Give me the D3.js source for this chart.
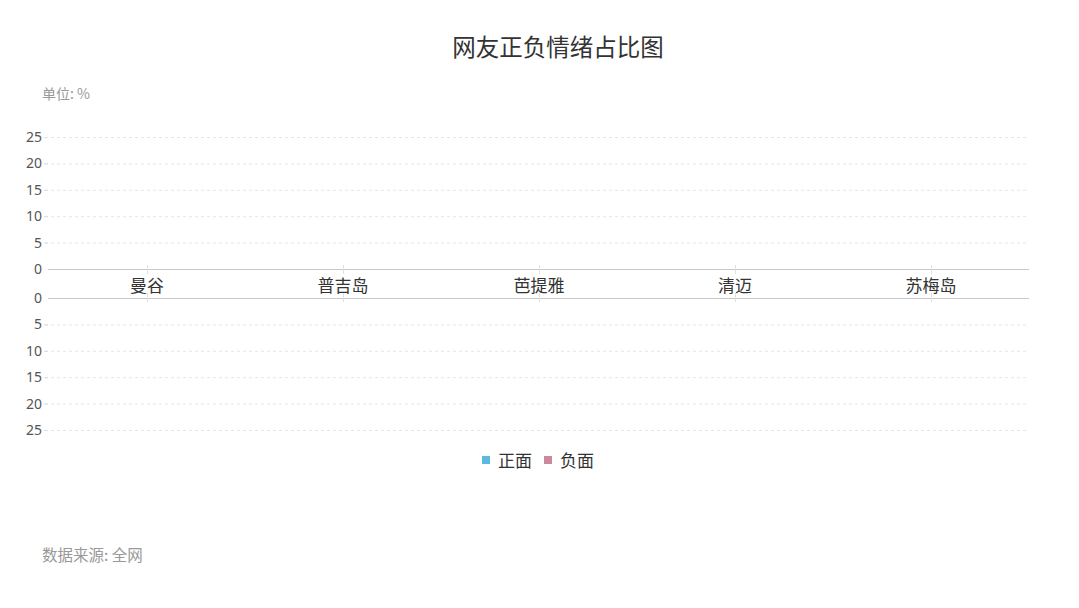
<!DOCTYPE html>
<html><head><meta charset="utf-8">
<script src="https://cdn.jsdelivr.net/npm/d3@7/dist/d3.min.js"></script>
<style>
html,body{margin:0;padding:0;background:#fff;}
svg{display:block;font-family:"Noto Sans CJK SC","Noto Sans",sans-serif;}
</style></head>
<body>
<svg id="c" width="1079" height="608"></svg>
<script>
const categories = ["曼谷","普吉岛","芭提雅","清迈","苏梅岛"];
const positive = [0,0,0,0,0];
const negative = [0,0,0,0,0];
const yTicks = [0,5,10,15,20,25];
const seriesNames = ["正面","负面"];
const colors = ["#5bb8e3","#c98b9b"];

const svg = d3.select("#c");
const left = 49, right = 1029;
const x = d3.scaleBand().domain(categories).range([left,right]);
const yTop = d3.scaleLinear().domain([0,25]).range([269,137]);
const yBot = d3.scaleLinear().domain([0,25]).range([298,430]);

svg.append("text").attr("x",558).attr("y",56).attr("text-anchor","middle")
  .attr("font-size",23.5).attr("fill","#333").text("网友正负情绪占比图");
svg.append("text").attr("x",42).attr("y",99).attr("font-size",14).attr("fill","#999").text("单位: %");

function grid(y){
  const g = svg.append("g");
  yTicks.filter(t=>t>0).forEach(t=>{
    g.append("line").attr("x1",left-4).attr("x2",right).attr("y1",y(t)+0.5).attr("y2",y(t)+0.5)
      .attr("stroke","#e6e6e6").attr("stroke-dasharray","3,3");
  });
  const ax = d3.axisLeft(y).tickValues(yTicks).tickSize(4).tickPadding(2);
  const a = svg.append("g").attr("transform",`translate(${left-1},0)`).call(ax);
  a.select(".domain").remove();
  a.selectAll(".tick line").attr("stroke","#ddd");
  a.selectAll(".tick text").attr("font-size",14).attr("fill","#555")
    .attr("font-family","'Noto Sans','Open Sans',sans-serif");
  a.selectAll(".tick").filter(d=>d===0).select("line").remove();
  svg.append("line").attr("x1",left-1).attr("x2",right).attr("y1",y(0)+0.5).attr("y2",y(0)+0.5).attr("stroke","#c8c8c8");
}
grid(yTop); grid(yBot);

// category ticks
categories.forEach(c=>{
  const cx = Math.round(x(c)+x.bandwidth()/2)+0.5;
  svg.append("line").attr("x1",cx).attr("x2",cx).attr("y1",yTop(0)-4).attr("y2",yTop(0)+5).attr("stroke","#e0e0e0");
  svg.append("line").attr("x1",cx).attr("x2",cx).attr("y1",yBot(0)-5).attr("y2",yBot(0)+4).attr("stroke","#e0e0e0");
});

// bars
const bw = x.bandwidth()*0.4;
svg.append("g").selectAll("rect").data(positive).join("rect")
  .attr("x",(d,i)=>x(categories[i])+(x.bandwidth()-bw)/2).attr("width",bw)
  .attr("y",d=>yTop(d)).attr("height",d=>yTop(0)-yTop(d)).attr("fill",colors[0]);
svg.append("g").selectAll("rect").data(negative).join("rect")
  .attr("x",(d,i)=>x(categories[i])+(x.bandwidth()-bw)/2).attr("width",bw)
  .attr("y",yBot(0)).attr("height",d=>yBot(d)-yBot(0)).attr("fill",colors[1]);

// category labels
svg.append("g").selectAll("text").data(categories).join("text")
  .attr("x",d=>x(d)+x.bandwidth()/2).attr("y",292).attr("text-anchor","middle")
  .attr("font-size",17).attr("fill","#333").text(d=>d);

// legend
const lg = svg.append("g");
const lx = [482, 544];
seriesNames.forEach((s,i)=>{
  lg.append("rect").attr("x",lx[i]).attr("y",456).attr("width",8).attr("height",8).attr("fill",colors[i]);
  lg.append("text").attr("x",lx[i]+16).attr("y",467).attr("font-size",17).attr("fill","#333").text(s);
});

svg.append("text").attr("x",42).attr("y",561).attr("font-size",15.5).attr("fill","#999").text("数据来源: 全网");
</script>
</body></html>
